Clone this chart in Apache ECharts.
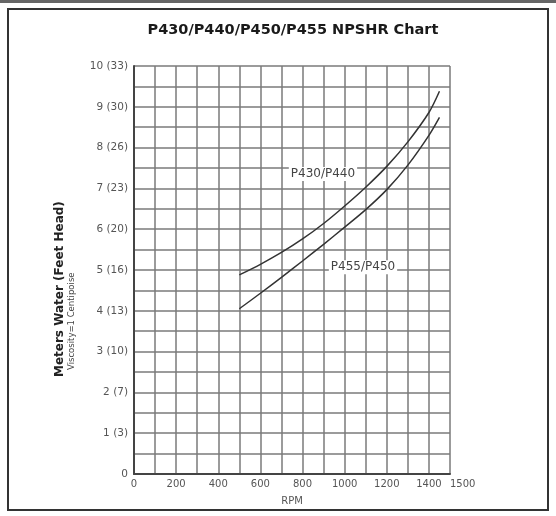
<!DOCTYPE html>
<html>
<head>
<meta charset="utf-8">
<script src="https://cdn.jsdelivr.net/npm/echarts@6/dist/echarts.min.js"></script>
<style>html,body{margin:0;padding:0;background:#fff;}#c{width:556px;height:516px;}</style>
</head>
<body>
<div id="c"></div>
<script>
var title = 'P430/P440/P450/P455 NPSHR Chart';
var seriesNames = ['P430/P440', 'P455/P450'];
var rpmUpper = [500, 600, 700, 800, 900, 1000, 1100, 1200, 1300, 1400, 1450];
var headUpper = [4.88, 5.14, 5.43, 5.76, 6.14, 6.57, 7.03, 7.54, 8.14, 8.86, 9.38];
var rpmLower = [500, 600, 700, 800, 900, 1000, 1100, 1200, 1300, 1400, 1450];
var headLower = [4.05, 4.43, 4.82, 5.22, 5.63, 6.05, 6.48, 6.97, 7.57, 8.30, 8.74];
var yTickLabels = ['0', '1 (3)', '2 (7)', '3 (10)', '4 (13)', '5 (16)', '6 (20)', '7 (23)', '8 (26)', '9 (30)', '10 (33)'];
var xTickLabels = ['0', '200', '400', '600', '800', '1000', '1200', '1400', '1500'];
var yAxisTitle = 'Meters Water (Feet Head)';
var yAxisSubtitle = 'Viscosity=1 Centipoise';

function pairs(xs, ys) { return xs.map(function (x, i) { return [x, ys[i]]; }); }

var chart = echarts.init(document.getElementById('c'));
var font = 'DejaVu Sans, Verdana, sans-serif';
function seriesLabel(name, coord) {
  return {
    symbol: 'rect', symbolSize: 1, itemStyle: { color: 'rgba(0,0,0,0)' },
    label: { show: true, formatter: name, fontFamily: font, fontSize: 12, color: '#444',
             backgroundColor: '#fff', padding: [1, 2] },
    data: [{ coord: coord }]
  };
}
chart.setOption({
  backgroundColor: '#fff',
  animation: false,
  title: {
    text: title, left: 288, top: 18, textAlign: 'center',
    textStyle: { fontFamily: font, fontSize: 14.5, fontWeight: 'bold', color: '#1a1a1a' }
  },
  grid: { left: 134, top: 66, right: 106, bottom: 42 },
  xAxis: {
    type: 'value', min: 0, max: 1500, interval: 100,
    name: 'RPM', nameLocation: 'middle', nameGap: 22,
    nameTextStyle: { fontFamily: font, fontSize: 10, color: '#555' },
    axisLine: { show: true, onZero: false, lineStyle: { color: '#444', width: 2 } },
    axisTick: { show: false },
    axisLabel: {
      fontFamily: font, fontSize: 10, color: '#555', margin: 5,
      showMinLabel: true, showMaxLabel: true, alignMaxLabel: 'left',
      formatter: function (v) { var s = String(v); return xTickLabels.indexOf(s) >= 0 ? s : ''; }
    },
    splitLine: { show: true, lineStyle: { color: '#7a7a7a', width: 1.5 } }
  },
  yAxis: {
    type: 'value', min: 0, max: 10, interval: 0.5,
    axisLine: { show: true, lineStyle: { color: '#444', width: 2 } },
    axisTick: { show: false },
    axisLabel: {
      fontFamily: font, fontSize: 10.5, color: '#555', margin: 6,
      formatter: function (v) { return Number.isInteger(v) ? yTickLabels[v] : ''; }
    },
    splitLine: { show: true, lineStyle: { color: '#7a7a7a', width: 1.5 } }
  },
  series: [
    {
      name: seriesNames[0], type: 'line', smooth: 0.3, showSymbol: false,
      data: pairs(rpmUpper, headUpper),
      lineStyle: { color: '#333', width: 1.5 },
      markPoint: seriesLabel(seriesNames[0], [897, 7.35])
    },
    {
      name: seriesNames[1], type: 'line', smooth: 0.3, showSymbol: false,
      data: pairs(rpmLower, headLower),
      lineStyle: { color: '#333', width: 1.5 },
      markPoint: seriesLabel(seriesNames[1], [1087, 5.07])
    }
  ],
  graphic: [
    { type: 'rect', shape: { x: 0, y: 0, width: 556, height: 3 }, style: { fill: '#666' } },
    { type: 'rect', shape: { x: 8, y: 9, width: 540, height: 501 }, style: { fill: 'none', stroke: '#333', lineWidth: 2 } },
    { type: 'text', x: 60, y: 377, rotation: Math.PI / 2,
      style: { text: yAxisTitle, fontFamily: font, fontSize: 12, fontWeight: 'bold', fill: '#222',
               textAlign: 'left', textVerticalAlign: 'middle' } },
    { type: 'text', x: 72, y: 370, rotation: Math.PI / 2,
      style: { text: yAxisSubtitle, fontFamily: font, fontSize: 8.5, fill: '#444',
               textAlign: 'left', textVerticalAlign: 'middle' } }
  ]
});
</script>
</body>
</html>
